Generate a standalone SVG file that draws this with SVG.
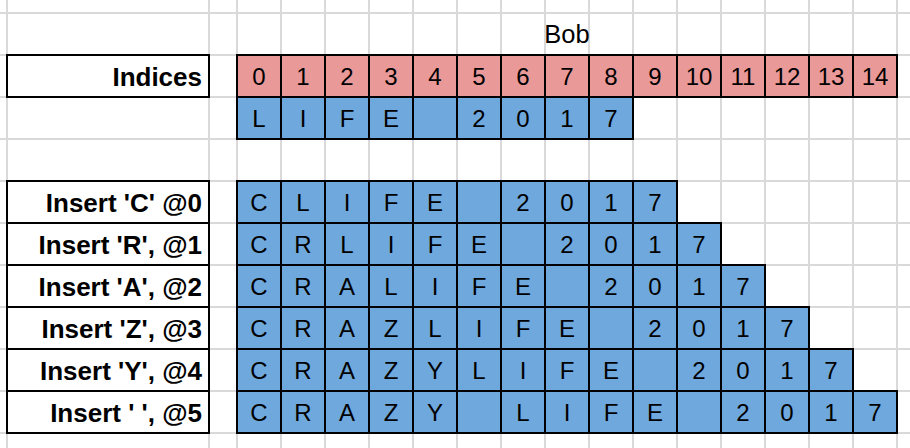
<svg xmlns="http://www.w3.org/2000/svg" width="910" height="448" viewBox="0 0 910 448">
<style>
.g{stroke:#d9d9d9;stroke-width:2;fill:none}
.p{fill:#ea9999;stroke:#000;stroke-width:2}
.b{fill:#6fa8dc;stroke:#000;stroke-width:2}
.w{fill:#fff;stroke:#000;stroke-width:2}
.t{font-family:"Liberation Sans",Arial,sans-serif;font-size:24px;fill:#000;text-anchor:middle}
.l{font-family:"Liberation Sans",Arial,sans-serif;font-size:26px;font-weight:bold;fill:#000;text-anchor:end}
.h{font-family:"Liberation Sans",Arial,sans-serif;font-size:25.5px;fill:#000;text-anchor:middle}
</style>
<rect width="910" height="448" fill="#fff"/>
<g id="grid" class="g">
<path d="M7 0V448M209 0V448M237 0V448M281 0V448M325 0V448M369 0V448M413 0V448M457 0V448M501 0V448M545 0V448M589 0V448M633 0V448M677 0V448M721 0V448M765 0V448M809 0V448M853 0V448M897 0V448"/>
<path d="M0 13H910M0 55H910M0 97H910M0 139H910M0 181H910M0 223H910M0 265H910M0 307H910M0 349H910M0 391H910M0 433H910"/>
</g>
<g id="title"><text class="h" x="567" y="43">Bob</text></g>
<g id="labels">
<g id="label-indices"><rect class="w" x="7" y="55" width="202" height="42"/><text class="l" x="202" y="86">Indices</text></g>
<g id="label-c"><rect class="w" x="7" y="181" width="202" height="42"/><text class="l" x="202" y="212">Insert 'C' @0</text></g>
<g id="label-r"><rect class="w" x="7" y="223" width="202" height="42"/><text class="l" x="202" y="254">Insert 'R', @1</text></g>
<g id="label-a"><rect class="w" x="7" y="265" width="202" height="42"/><text class="l" x="202" y="296">Insert 'A', @2</text></g>
<g id="label-z"><rect class="w" x="7" y="307" width="202" height="42"/><text class="l" x="202" y="338">Insert 'Z', @3</text></g>
<g id="label-y"><rect class="w" x="7" y="349" width="202" height="42"/><text class="l" x="202" y="380">Insert 'Y', @4</text></g>
<g id="label-sp"><rect class="w" x="7" y="391" width="202" height="42"/><text class="l" x="202" y="422">Insert ' ', @5</text></g>
</g>
<g id="row-indices">
<rect class="p" x="237" y="55" width="44" height="42"/><rect class="p" x="281" y="55" width="44" height="42"/><rect class="p" x="325" y="55" width="44" height="42"/><rect class="p" x="369" y="55" width="44" height="42"/><rect class="p" x="413" y="55" width="44" height="42"/><rect class="p" x="457" y="55" width="44" height="42"/><rect class="p" x="501" y="55" width="44" height="42"/><rect class="p" x="545" y="55" width="44" height="42"/><rect class="p" x="589" y="55" width="44" height="42"/><rect class="p" x="633" y="55" width="44" height="42"/><rect class="p" x="677" y="55" width="44" height="42"/><rect class="p" x="721" y="55" width="44" height="42"/><rect class="p" x="765" y="55" width="44" height="42"/><rect class="p" x="809" y="55" width="44" height="42"/><rect class="p" x="853" y="55" width="44" height="42"/>
<text class="t" y="85"><tspan x="259">0</tspan><tspan x="303">1</tspan><tspan x="347">2</tspan><tspan x="391">3</tspan><tspan x="435">4</tspan><tspan x="479">5</tspan><tspan x="523">6</tspan><tspan x="567">7</tspan><tspan x="611">8</tspan><tspan x="655">9</tspan><tspan x="699">10</tspan><tspan x="743">11</tspan><tspan x="787">12</tspan><tspan x="831">13</tspan><tspan x="875">14</tspan></text>
</g>
<g id="row-life">
<rect class="b" x="237" y="97" width="44" height="42"/><rect class="b" x="281" y="97" width="44" height="42"/><rect class="b" x="325" y="97" width="44" height="42"/><rect class="b" x="369" y="97" width="44" height="42"/><rect class="b" x="413" y="97" width="44" height="42"/><rect class="b" x="457" y="97" width="44" height="42"/><rect class="b" x="501" y="97" width="44" height="42"/><rect class="b" x="545" y="97" width="44" height="42"/><rect class="b" x="589" y="97" width="44" height="42"/>
<text class="t" y="127"><tspan x="259">L</tspan><tspan x="303">I</tspan><tspan x="347">F</tspan><tspan x="391">E</tspan><tspan x="479">2</tspan><tspan x="523">0</tspan><tspan x="567">1</tspan><tspan x="611">7</tspan></text>
</g>
<g id="row-c">
<rect class="b" x="237" y="181" width="44" height="42"/><rect class="b" x="281" y="181" width="44" height="42"/><rect class="b" x="325" y="181" width="44" height="42"/><rect class="b" x="369" y="181" width="44" height="42"/><rect class="b" x="413" y="181" width="44" height="42"/><rect class="b" x="457" y="181" width="44" height="42"/><rect class="b" x="501" y="181" width="44" height="42"/><rect class="b" x="545" y="181" width="44" height="42"/><rect class="b" x="589" y="181" width="44" height="42"/><rect class="b" x="633" y="181" width="44" height="42"/>
<text class="t" y="211"><tspan x="259">C</tspan><tspan x="303">L</tspan><tspan x="347">I</tspan><tspan x="391">F</tspan><tspan x="435">E</tspan><tspan x="523">2</tspan><tspan x="567">0</tspan><tspan x="611">1</tspan><tspan x="655">7</tspan></text>
</g>
<g id="row-r">
<rect class="b" x="237" y="223" width="44" height="42"/><rect class="b" x="281" y="223" width="44" height="42"/><rect class="b" x="325" y="223" width="44" height="42"/><rect class="b" x="369" y="223" width="44" height="42"/><rect class="b" x="413" y="223" width="44" height="42"/><rect class="b" x="457" y="223" width="44" height="42"/><rect class="b" x="501" y="223" width="44" height="42"/><rect class="b" x="545" y="223" width="44" height="42"/><rect class="b" x="589" y="223" width="44" height="42"/><rect class="b" x="633" y="223" width="44" height="42"/><rect class="b" x="677" y="223" width="44" height="42"/>
<text class="t" y="253"><tspan x="259">C</tspan><tspan x="303">R</tspan><tspan x="347">L</tspan><tspan x="391">I</tspan><tspan x="435">F</tspan><tspan x="479">E</tspan><tspan x="567">2</tspan><tspan x="611">0</tspan><tspan x="655">1</tspan><tspan x="699">7</tspan></text>
</g>
<g id="row-a">
<rect class="b" x="237" y="265" width="44" height="42"/><rect class="b" x="281" y="265" width="44" height="42"/><rect class="b" x="325" y="265" width="44" height="42"/><rect class="b" x="369" y="265" width="44" height="42"/><rect class="b" x="413" y="265" width="44" height="42"/><rect class="b" x="457" y="265" width="44" height="42"/><rect class="b" x="501" y="265" width="44" height="42"/><rect class="b" x="545" y="265" width="44" height="42"/><rect class="b" x="589" y="265" width="44" height="42"/><rect class="b" x="633" y="265" width="44" height="42"/><rect class="b" x="677" y="265" width="44" height="42"/><rect class="b" x="721" y="265" width="44" height="42"/>
<text class="t" y="295"><tspan x="259">C</tspan><tspan x="303">R</tspan><tspan x="347">A</tspan><tspan x="391">L</tspan><tspan x="435">I</tspan><tspan x="479">F</tspan><tspan x="523">E</tspan><tspan x="611">2</tspan><tspan x="655">0</tspan><tspan x="699">1</tspan><tspan x="743">7</tspan></text>
</g>
<g id="row-z">
<rect class="b" x="237" y="307" width="44" height="42"/><rect class="b" x="281" y="307" width="44" height="42"/><rect class="b" x="325" y="307" width="44" height="42"/><rect class="b" x="369" y="307" width="44" height="42"/><rect class="b" x="413" y="307" width="44" height="42"/><rect class="b" x="457" y="307" width="44" height="42"/><rect class="b" x="501" y="307" width="44" height="42"/><rect class="b" x="545" y="307" width="44" height="42"/><rect class="b" x="589" y="307" width="44" height="42"/><rect class="b" x="633" y="307" width="44" height="42"/><rect class="b" x="677" y="307" width="44" height="42"/><rect class="b" x="721" y="307" width="44" height="42"/><rect class="b" x="765" y="307" width="44" height="42"/>
<text class="t" y="337"><tspan x="259">C</tspan><tspan x="303">R</tspan><tspan x="347">A</tspan><tspan x="391">Z</tspan><tspan x="435">L</tspan><tspan x="479">I</tspan><tspan x="523">F</tspan><tspan x="567">E</tspan><tspan x="655">2</tspan><tspan x="699">0</tspan><tspan x="743">1</tspan><tspan x="787">7</tspan></text>
</g>
<g id="row-y">
<rect class="b" x="237" y="349" width="44" height="42"/><rect class="b" x="281" y="349" width="44" height="42"/><rect class="b" x="325" y="349" width="44" height="42"/><rect class="b" x="369" y="349" width="44" height="42"/><rect class="b" x="413" y="349" width="44" height="42"/><rect class="b" x="457" y="349" width="44" height="42"/><rect class="b" x="501" y="349" width="44" height="42"/><rect class="b" x="545" y="349" width="44" height="42"/><rect class="b" x="589" y="349" width="44" height="42"/><rect class="b" x="633" y="349" width="44" height="42"/><rect class="b" x="677" y="349" width="44" height="42"/><rect class="b" x="721" y="349" width="44" height="42"/><rect class="b" x="765" y="349" width="44" height="42"/><rect class="b" x="809" y="349" width="44" height="42"/>
<text class="t" y="379"><tspan x="259">C</tspan><tspan x="303">R</tspan><tspan x="347">A</tspan><tspan x="391">Z</tspan><tspan x="435">Y</tspan><tspan x="479">L</tspan><tspan x="523">I</tspan><tspan x="567">F</tspan><tspan x="611">E</tspan><tspan x="699">2</tspan><tspan x="743">0</tspan><tspan x="787">1</tspan><tspan x="831">7</tspan></text>
</g>
<g id="row-space">
<rect class="b" x="237" y="391" width="44" height="42"/><rect class="b" x="281" y="391" width="44" height="42"/><rect class="b" x="325" y="391" width="44" height="42"/><rect class="b" x="369" y="391" width="44" height="42"/><rect class="b" x="413" y="391" width="44" height="42"/><rect class="b" x="457" y="391" width="44" height="42"/><rect class="b" x="501" y="391" width="44" height="42"/><rect class="b" x="545" y="391" width="44" height="42"/><rect class="b" x="589" y="391" width="44" height="42"/><rect class="b" x="633" y="391" width="44" height="42"/><rect class="b" x="677" y="391" width="44" height="42"/><rect class="b" x="721" y="391" width="44" height="42"/><rect class="b" x="765" y="391" width="44" height="42"/><rect class="b" x="809" y="391" width="44" height="42"/><rect class="b" x="853" y="391" width="44" height="42"/>
<text class="t" y="421"><tspan x="259">C</tspan><tspan x="303">R</tspan><tspan x="347">A</tspan><tspan x="391">Z</tspan><tspan x="435">Y</tspan><tspan x="523">L</tspan><tspan x="567">I</tspan><tspan x="611">F</tspan><tspan x="655">E</tspan><tspan x="743">2</tspan><tspan x="787">0</tspan><tspan x="831">1</tspan><tspan x="875">7</tspan></text>
</g>
</svg>
